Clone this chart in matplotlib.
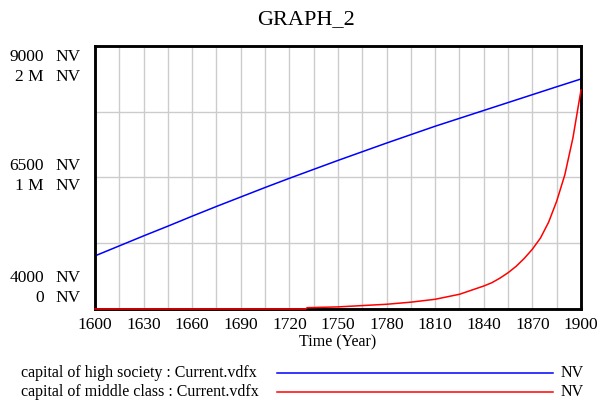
import matplotlib
matplotlib.use("Agg")
import matplotlib.pyplot as plt
from matplotlib.lines import Line2D

plt.rcParams['font.family'] = ['Liberation Serif', 'DejaVu Serif']

# capital of high society (NV), read every 15 years
high_years = [1600, 1615, 1630, 1645, 1660, 1675, 1690, 1705, 1720, 1735, 1750,
              1765, 1780, 1795, 1810, 1825, 1840, 1855, 1870, 1885, 1900]
high_capital = [5010, 5200, 5390, 5575, 5765, 5950, 6130, 6310, 6485, 6655, 6825,
                6990, 7155, 7315, 7475, 7625, 7775, 7925, 8075, 8225, 8373]

# capital of middle class (NV)
mid_years = [1600, 1720, 1730, 1731, 1750, 1765, 1780, 1795, 1810, 1825, 1840,
             1845, 1850, 1855, 1860, 1865, 1870, 1875, 1880, 1885, 1890, 1895, 1900]
mid_capital = [0, 0, 0, 10000, 16000, 26000, 36000, 52000, 74000, 112000, 175000,
               200000, 235000, 276000, 325000, 385000, 455000, 540000, 660000,
               820000, 1020000, 1300000, 1665000]

x_ticks = list(range(1600, 1901, 30))
high_ticks = ["4000", "6500", "9000"]
mid_ticks = ["0", "1 M", "2 M"]
series_names = ["capital of high society : Current.vdfx",
                "capital of middle class : Current.vdfx"]
colors = ["#0000ff", "#ff0000"]

fig = plt.figure(figsize=(6, 4), dpi=100)
ax = fig.add_axes([95 / 600, 1 - 309 / 400, 486 / 600, 263 / 400])
ax2 = ax.twinx()

ax.plot(high_years, high_capital, color=colors[0], lw=1.1, zorder=3)
ax2.plot(mid_years, mid_capital, color=colors[1], lw=1.1, zorder=3, clip_on=False)

ax.set_xlim(1600, 1900)
ax.set_ylim(4000, 9000)
ax2.set_ylim(0, 2e6)

ax.set_xticks(x_ticks)
ax.set_xticks(range(1600, 1901, 15), minor=True)
ax.set_yticks([4000, 5250, 6500, 7750, 9000])
ax.set_yticklabels([])
ax2.set_yticks([])
ax.grid(True, which='both', color='#cccccc', lw=1)
ax.set_axisbelow(True)
ax.tick_params(axis='y', length=0)
ax.tick_params(axis='x', which='both', length=0, pad=6, labelsize=12.5)
for sp in list(ax.spines.values()) + list(ax2.spines.values()):
    sp.set_linewidth(1.8)
    sp.set_color('black')

ax.set_xlabel("Time (Year)", fontsize=11.5, labelpad=1)

# stacked y labels on the left
fracs = [0.0, 0.5, 1.0]
offsets = [(31, 11), (11, -9), (-11, -31)]
for f, hi, mi, (d1, d2) in zip(fracs, high_ticks, mid_ticks, offsets):
    for txt, dy in [(hi, d1), (mi, d2)]:
        ax.annotate(txt, xy=(0, f), xycoords='axes fraction', xytext=(-51, dy),
                    textcoords='offset pixels', ha='right', va='center', fontsize=12.5)
        ax.annotate("NV", xy=(0, f), xycoords='axes fraction', xytext=(-40, dy),
                    textcoords='offset pixels', ha='left', va='center', fontsize=12.5)

fig.text(0.51, 0.95, "GRAPH_2", ha='center', va='center', fontsize=16)

# legend
for i, (name, c) in enumerate(zip(series_names, colors)):
    yy = 1 - (373 + 19 * i) / 400
    fig.text(21 / 600, yy, name, ha='left', va='center', fontsize=11.5)
    fig.add_artist(Line2D([277 / 600, 553 / 600], [yy, yy], color=c, lw=1.1,
                          transform=fig.transFigure))
    fig.text(561 / 600, yy, "NV", ha='left', va='center', fontsize=11.5)

fig.savefig("out.png", dpi=100)
